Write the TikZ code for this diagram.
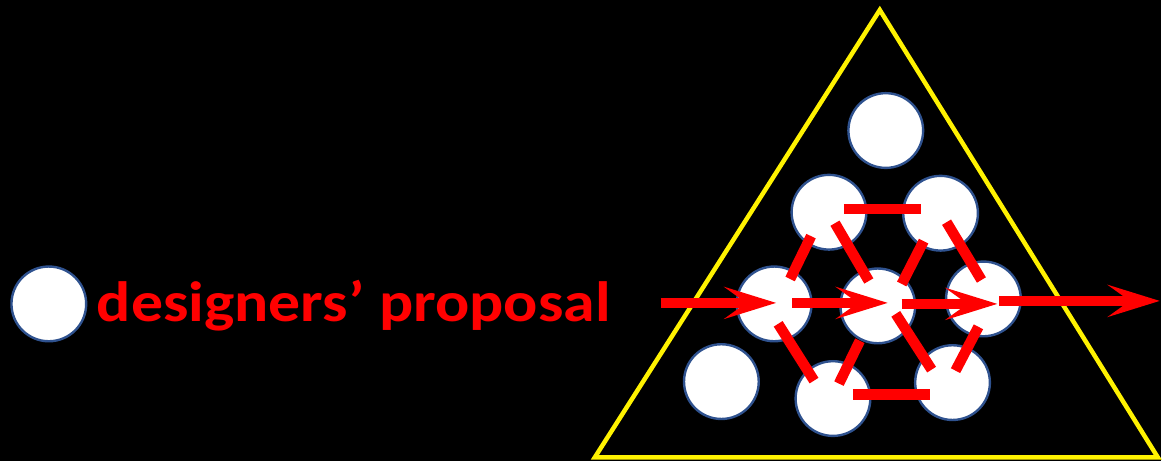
\documentclass[tikz,border=0pt]{standalone}
\usepackage{fontspec}
\setmainfont{Carlito}
\usetikzlibrary{arrows.meta,calc}
\definecolor{rim}{RGB}{47,82,143}
\begin{document}
\begin{tikzpicture}[
    x=1pt, y=-1pt,
    member/.style={
      circle, draw=rim, line width=2.4pt, fill=white,
      minimum size=75pt, inner sep=0pt
    },
    bar/.style={red, line width=10.5pt},
    flow/.style={red, line width=10.5pt,
      -{Stealth[length=52pt, width=32pt, inset=22pt]}}
  ]
    \fill (0,0) rectangle (1165,463);

    % legend
    \node[member] (key) at (49,305) {};
    \node[anchor=base west, inner sep=0pt, red,
      font=\fontsize{57}{60}\selectfont\bfseries] (label) at (97,323)
      {\scalebox{1.123}[1]{designers’ proposal}};

    % team triangle
    \draw[yellow, line width=4.5pt] (883,10) -- (1162,459) -- (597,459) -- cycle;

    \node[member] (c11) at (889,131) {};
    \node[member] (c21) at (832,213) {};
    \node[member] (c22) at (944,214) {};
    \node[member] (c31) at (777,305) {};
    \node[member] (c32) at (881,307) {};
    \node[member] (c33) at (987,300) {};
    \node[member] (c41) at (724,383) {};
    \node[member] (c42) at (836,400) {};
    \node[member] (c43) at (956,384) {};

    % links
    \draw[bar] ($(c21)+(15,-3)$) -- ($(c22)+(-20,-4)$);
    \draw[bar] ($(c42)+(20,-4)$) -- ($(c43)+(-23,12)$);
    \draw[bar] ($(c21)+(-18,24)$) -- ($(c31)+(16,-25)$);
    \draw[bar] ($(c21)+(6,11)$) -- ($(c32)+(-9,-25)$);
    \draw[bar] ($(c22)+(-17,28)$) -- ($(c32)+(24,-22)$);
    \draw[bar] ($(c22)+(6,9)$) -- ($(c33)+(-2,-19)$);
    \draw[bar] ($(c31)+(4,20)$) -- ($(c42)+(-19,-18)$);
    \draw[bar] ($(c32)+(-18,35)$) -- ($(c42)+(6,-15)$);
    \draw[bar] ($(c32)+(18,8)$) -- ($(c43)+(-21,-13)$);
    \draw[bar] ($(c33)+(-5,28)$) -- ($(c43)+(3,-12)$);

    % proposal flow
    \coordinate (in) at (663,304);
    \coordinate (out) at (1164,302);
    \draw[flow] (in) -- ($(c31)+(2,-1)$);
    \draw[flow] ($(c31)+(18,-1)$) -- ($(c32)+(10,-3)$);
    \draw[flow] ($(c32)+(24,-2)$) -- ($(c33)+(14,5)$);
    \draw[flow] ($(c33)+(16,2)$) -- (out);
\end{tikzpicture}
\end{document}
